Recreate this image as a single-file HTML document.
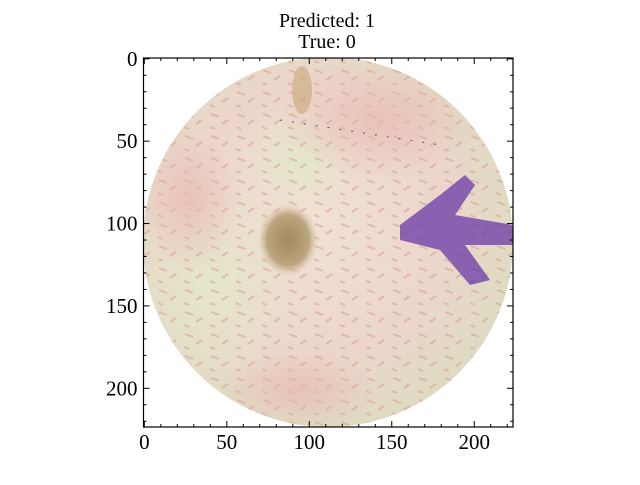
<!DOCTYPE html>
<html><head><meta charset="utf-8"><style>
body{margin:0;background:#fff}
text{font-family:"Liberation Serif","DejaVu Serif",serif;fill:#000}
</style></head><body>
<svg id="c" width="640" height="480" viewBox="0 0 640 480">
<defs>
<radialGradient id="skin" cx="0.45" cy="0.45" r="0.6">
<stop offset="0" stop-color="#f0e2d4"/>
<stop offset="0.6" stop-color="#ecd6cc"/>
<stop offset="1" stop-color="#dcdcc0"/>
</radialGradient>
<radialGradient id="lesion" cx="0.5" cy="0.5" r="0.5">
<stop offset="0" stop-color="#a48a5c"/>
<stop offset="0.7" stop-color="#bca47c"/>
<stop offset="1" stop-color="#d8c3a8" stop-opacity="0"/>
</radialGradient>
<radialGradient id="pink" cx="0.5" cy="0.5" r="0.5">
<stop offset="0" stop-color="#e8b8ae" stop-opacity="0.7"/>
<stop offset="1" stop-color="#e8b8ae" stop-opacity="0"/>
</radialGradient>
<radialGradient id="green" cx="0.5" cy="0.5" r="0.5">
<stop offset="0" stop-color="#e2e8c8" stop-opacity="0.95"/>
<stop offset="1" stop-color="#e2e8c8" stop-opacity="0"/>
</radialGradient>
<pattern id="spk" width="26" height="22" patternUnits="userSpaceOnUse">
<rect width="26" height="22" fill="none"/>
<path d="M3 4 l8 3 M14 14 l6 -4 M2 17 l5 2" stroke="#d89a8e" stroke-width="2" opacity="0.55"/>
</pattern>
<clipPath id="ax"><rect x="143.5" y="58" width="369.5" height="369"/></clipPath>
<clipPath id="circ"><circle cx="328" cy="242" r="185"/></clipPath>
</defs>
<g clip-path="url(#ax)">
<circle cx="328" cy="242" r="185" fill="url(#skin)"/>
<g clip-path="url(#circ)">
<ellipse cx="210" cy="290" rx="90" ry="110" fill="url(#green)"/>
<ellipse cx="300" cy="160" rx="60" ry="50" fill="url(#green)"/>
<rect x="140" y="55" width="380" height="380" fill="url(#spk)"/>
<ellipse cx="380" cy="120" rx="100" ry="60" fill="url(#pink)"/>
<ellipse cx="300" cy="390" rx="80" ry="40" fill="url(#pink)"/>
<ellipse cx="190" cy="200" rx="50" ry="70" fill="url(#pink)"/>
</g>
<ellipse cx="288" cy="240" rx="30" ry="36" fill="url(#lesion)"/>
<ellipse cx="302" cy="90" rx="10" ry="24" fill="#c9a678" opacity="0.6"/>
<path d="M400 225 L440 195 L465 175 L475 185 L455 215 L513 225 L513 245 L465 245 L490 280 L470 285 L440 250 L400 240 Z" fill="#6a3aa8" opacity="0.75"/>
<path d="M280 120 L440 145" stroke="#555" stroke-width="1" stroke-dasharray="2 10" fill="none"/>
</g>
<g id="axes"></g>
<text x="327" y="27" font-size="20" text-anchor="middle">Predicted: 1</text>
<text x="327" y="48" font-size="20" text-anchor="middle">True: 0</text>
</svg>
<script>
const xTicks=[0,50,100,150,200];
const yTicks=[0,50,100,150,200];
const minorStep=10;
const extent=[-0.5,223.5];
const L=143.5,R=513,T=58,B=427;
const sx=v=>L+(v-extent[0])/(extent[1]-extent[0])*(R-L);
const sy=v=>T+(v-extent[0])/(extent[1]-extent[0])*(B-T);
const g=document.getElementById('axes');
const ns='http://www.w3.org/2000/svg';
function line(x1,y1,x2,y2,name){const l=document.createElementNS(ns,'line');
l.setAttribute('x1',x1);l.setAttribute('y1',y1);l.setAttribute('x2',x2);l.setAttribute('y2',y2);
l.setAttribute('stroke','#000');l.setAttribute('stroke-width','1');


g.appendChild(l);}
const fr=document.createElementNS(ns,'rect');
fr.setAttribute('x',L);fr.setAttribute('y',T);fr.setAttribute('width',R-L);fr.setAttribute('height',B-T);
fr.setAttribute('fill','none');fr.setAttribute('stroke','#000');fr.setAttribute('stroke-width','1.2');


g.appendChild(fr);
for(let v=0;v<=220;v+=minorStep){const maj=v%50===0;const len=maj?6:3;
const x=sx(v),y=sy(v);
line(x,B,x,B-len,'x-tick');line(x,T,x,T+len,'x-tick-top');
line(L,y,L+len,y,'y-tick');line(R,y,R-len,y,'y-tick-right');}
xTicks.forEach(v=>{const t=document.createElementNS(ns,'text');t.setAttribute('x',sx(v));t.setAttribute('y',B+22);
t.setAttribute('font-size','21');t.setAttribute('text-anchor','middle');t.textContent=v;


g.appendChild(t);});
yTicks.forEach(v=>{const t=document.createElementNS(ns,'text');t.setAttribute('x',L-6);t.setAttribute('y',sy(v)+7);
t.setAttribute('font-size','21');t.setAttribute('text-anchor','end');t.textContent=v;


g.appendChild(t);});
</script>
</body></html>
